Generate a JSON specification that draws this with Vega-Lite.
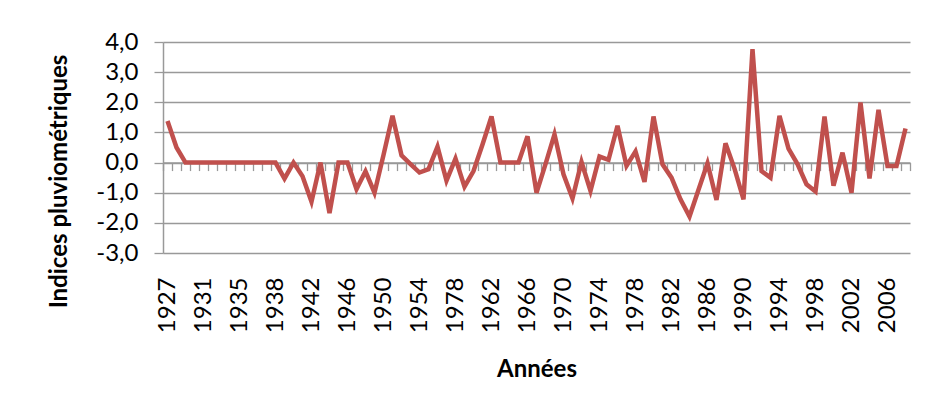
{
  "$schema": "https://vega.github.io/schema/vega-lite/v6.json",
  "width": 747,
  "height": 211,
  "autosize": {"type": "none"},
  "padding": {"left": 163, "top": 42, "right": 18, "bottom": 161},
  "background": "white",
  "config": {
    "view": {"stroke": null},
    "font": "Lato",
    "axis": {"labelFont": "Lato", "titleFont": "Lato"}
  },
  "data": {
    "values": [
      {"rang": 0, "indice": 1.38}, {"rang": 1, "indice": 0.5}, {"rang": 2, "indice": 0.0}, {"rang": 3, "indice": 0.0},
      {"rang": 4, "indice": 0.0}, {"rang": 5, "indice": 0.0}, {"rang": 6, "indice": 0.0}, {"rang": 7, "indice": 0.0},
      {"rang": 8, "indice": 0.0}, {"rang": 9, "indice": 0.0}, {"rang": 10, "indice": 0.0}, {"rang": 11, "indice": 0.0},
      {"rang": 12, "indice": 0.0}, {"rang": 13, "indice": -0.53}, {"rang": 14, "indice": 0.0}, {"rang": 15, "indice": -0.45},
      {"rang": 16, "indice": -1.3}, {"rang": 17, "indice": 0.0}, {"rang": 18, "indice": -1.68}, {"rang": 19, "indice": 0.0},
      {"rang": 20, "indice": 0.0}, {"rang": 21, "indice": -0.88}, {"rang": 22, "indice": -0.29}, {"rang": 23, "indice": -1.0},
      {"rang": 24, "indice": 0.25}, {"rang": 25, "indice": 1.55}, {"rang": 26, "indice": 0.24}, {"rang": 27, "indice": -0.05},
      {"rang": 28, "indice": -0.33}, {"rang": 29, "indice": -0.22}, {"rang": 30, "indice": 0.53}, {"rang": 31, "indice": -0.6},
      {"rang": 32, "indice": 0.13}, {"rang": 33, "indice": -0.8}, {"rang": 34, "indice": -0.28}, {"rang": 35, "indice": 0.6},
      {"rang": 36, "indice": 1.53}, {"rang": 37, "indice": 0.0}, {"rang": 38, "indice": 0.0}, {"rang": 39, "indice": 0.0},
      {"rang": 40, "indice": 0.87}, {"rang": 41, "indice": -1.0}, {"rang": 42, "indice": -0.05}, {"rang": 43, "indice": 0.94},
      {"rang": 44, "indice": -0.39}, {"rang": 45, "indice": -1.19}, {"rang": 46, "indice": 0.02}, {"rang": 47, "indice": -0.94},
      {"rang": 48, "indice": 0.2}, {"rang": 49, "indice": 0.09}, {"rang": 50, "indice": 1.22}, {"rang": 51, "indice": -0.11},
      {"rang": 52, "indice": 0.37}, {"rang": 53, "indice": -0.64}, {"rang": 54, "indice": 1.53}, {"rang": 55, "indice": -0.06},
      {"rang": 56, "indice": -0.5}, {"rang": 57, "indice": -1.22}, {"rang": 58, "indice": -1.79}, {"rang": 59, "indice": -0.9},
      {"rang": 60, "indice": -0.02}, {"rang": 61, "indice": -1.24}, {"rang": 62, "indice": 0.64}, {"rang": 63, "indice": -0.2},
      {"rang": 64, "indice": -1.22}, {"rang": 65, "indice": 3.76}, {"rang": 66, "indice": -0.28}, {"rang": 67, "indice": -0.5},
      {"rang": 68, "indice": 1.55}, {"rang": 69, "indice": 0.46}, {"rang": 70, "indice": -0.05}, {"rang": 71, "indice": -0.72},
      {"rang": 72, "indice": -0.96}, {"rang": 73, "indice": 1.53}, {"rang": 74, "indice": -0.77}, {"rang": 75, "indice": 0.33},
      {"rang": 76, "indice": -1.0}, {"rang": 77, "indice": 1.99}, {"rang": 78, "indice": -0.53}, {"rang": 79, "indice": 1.75},
      {"rang": 80, "indice": -0.11}, {"rang": 81, "indice": -0.11}, {"rang": 82, "indice": 1.13}
    ]
  },
  "encoding": {
    "y": {
      "field": "indice",
      "type": "quantitative",
      "scale": {"domain": [-3, 4], "nice": false, "zero": false},
      "axis": {
        "values": [-3, -2, -1, 0, 1, 2, 3, 4],
        "labelExpr": "(datum.value < 0 ? '-' : '') + replace(format(abs(datum.value), '.1f'), '.', ',')",
        "labelFontSize": 24,
        "labelColor": "#000000",
        "labelPadding": 16,
        "tickSize": 9,
        "tickColor": "#999999",
        "tickWidth": 1.3,
        "domainColor": "#999999",
        "domainWidth": 1.5,
        "gridColor": "#999999",
        "gridWidth": 1.3,
        "title": "Indices pluviométriques",
        "titleFontSize": 24,
        "titleFontWeight": "bold",
        "titleColor": "#000000",
        "titlePadding": 24,
        "titleY": 139,
        "zindex": 0
      }
    }
  },
  "layer": [
    {
      "mark": {"type": "line", "strokeOpacity": 0},
      "encoding": {
        "x": {
          "field": "rang",
          "type": "ordinal",
          "scale": {"type": "band", "paddingInner": 0, "paddingOuter": 0},
          "axis": {
            "orient": "bottom",
            "offset": -90.43,
            "labels": false,
            "title": null,
            "grid": false,
            "domain": true,
            "domainColor": "#999999",
            "domainWidth": 1.5,
            "ticks": true,
            "tickBand": "extent",
            "tickSize": 8,
            "tickColor": "#999999",
            "tickWidth": 1.3,
            "zindex": 0
          }
        }
      }
    },
    {
      "mark": {"type": "line", "color": "#C0504D", "strokeWidth": 4.5},
      "encoding": {
        "x": {
          "field": "rang",
          "type": "ordinal",
          "bandPosition": 0.5,
          "axis": {
            "orient": "bottom",
            "values": [0, 4, 8, 12, 16, 20, 24, 28, 32, 36, 40, 44, 48, 52, 56, 60, 64, 68, 72, 76, 80],
            "labelExpr": "{'0':'1927','4':'1931','8':'1935','12':'1938','16':'1942','20':'1946','24':'1950','28':'1954','32':'1978','36':'1962','40':'1966','44':'1970','48':'1974','52':'1978','56':'1982','60':'1986','64':'1990','68':'1994','72':'1998','76':'2002','80':'2006'}[datum.value]",
            "labelAngle": -90,
            "labelAlign": "right",
            "labelBaseline": "middle",
            "labelFontSize": 24,
            "labelColor": "#000000",
            "labelPadding": 24,
            "labelOverlap": false,
            "labelFlush": false,
            "labelBound": false,
            "ticks": false,
            "tickSize": 0,
            "domain": false,
            "grid": false,
            "title": "Années",
            "titleFontSize": 24,
            "titleFontWeight": "bold",
            "titleColor": "#000000",
            "titlePadding": 25,
            "zindex": 0
          }
        }
      }
    }
  ],
  "resolve": {"axis": {"x": "independent"}}
}
